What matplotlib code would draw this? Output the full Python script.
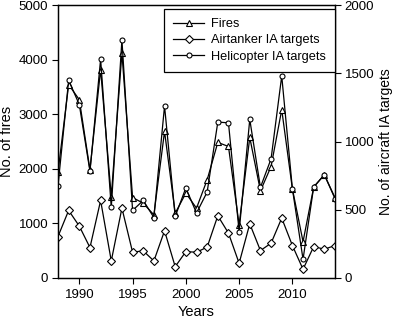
import matplotlib
matplotlib.use("Agg")
from matplotlib import pyplot as plt

plt.rcParams['font.family'] = ['Liberation Sans', 'DejaVu Sans']

# yearly values
years = list(range(1988, 2015))
fires = [1939, 3541, 3266, 1982, 3817, 1492, 4123, 1474, 1370, 1156, 2685, 1187, 1554,
         1279, 1798, 2483, 2409, 975, 2574, 1596, 2042, 3083, 1633, 666, 1664, 1890, 1470]
airtanker = [304, 495, 380, 223, 568, 125, 512, 189, 199, 125, 346, 83, 193,
             189, 226, 456, 329, 108, 397, 201, 255, 439, 238, 64, 230, 211, 238]
helicopter = [676, 1449, 1270, 782, 1603, 517, 1745, 495, 568, 443, 1260, 451, 660,
              476, 630, 1142, 1137, 340, 1162, 664, 873, 1480, 654, 137, 667, 757, 581]

left_ticks = [0, 1000, 2000, 3000, 4000, 5000]
right_ticks = [0, 500, 1000, 1500, 2000]
x_ticks = [1990, 1995, 2000, 2005, 2010]

fig = plt.figure(figsize=(3.95, 3.21), dpi=100)
ax = fig.add_axes([58/395, 1-278/321, 277/395, 273/321])
ax2 = ax.twinx()

lw = 0.9
l1, = ax.plot(years, fires, color='black', lw=lw, marker='^', ms=4,
              mfc='white', mec='black', mew=0.8, label='Fires')
l2, = ax2.plot(years, airtanker, color='black', lw=lw, marker='D', ms=3.6,
               mfc='white', mec='black', mew=0.8, label='Airtanker IA targets')
l3, = ax2.plot(years, helicopter, color='black', lw=lw, marker='o', ms=3.6,
               mfc='white', mec='black', mew=0.8, label='Helicopter IA targets')

ax.set_xlim(1988, 2014)
ax.set_ylim(0, 5000)
ax2.set_ylim(0, 2000)
ax.set_xticks(x_ticks)
ax.set_yticks(left_ticks)
ax2.set_yticks(right_ticks)

for a in (ax, ax2):
    a.tick_params(direction='out', length=4, width=0.8, labelsize=9.5, pad=3)
    for s in a.spines.values():
        s.set_linewidth(0.9)
ax.tick_params(axis='x', pad=4)

ax.set_xlabel("Years", fontsize=10.5, labelpad=3)
ax.set_ylabel("No. of fires", fontsize=10.5, labelpad=3)
ax2.set_ylabel("No. of aircraft IA targets", fontsize=10, labelpad=3)

leg = ax2.legend(handles=[l1, l2, l3], loc='upper right', bbox_to_anchor=(1.0, 0.986),
                 fontsize=9.2, frameon=True, fancybox=False, framealpha=1,
                 edgecolor='black', handlelength=2.4, borderpad=0.75,
                 labelspacing=0.32, handletextpad=0.5, borderaxespad=0)
leg.get_frame().set_linewidth(0.9)

fig.savefig("out.png", dpi=100)
